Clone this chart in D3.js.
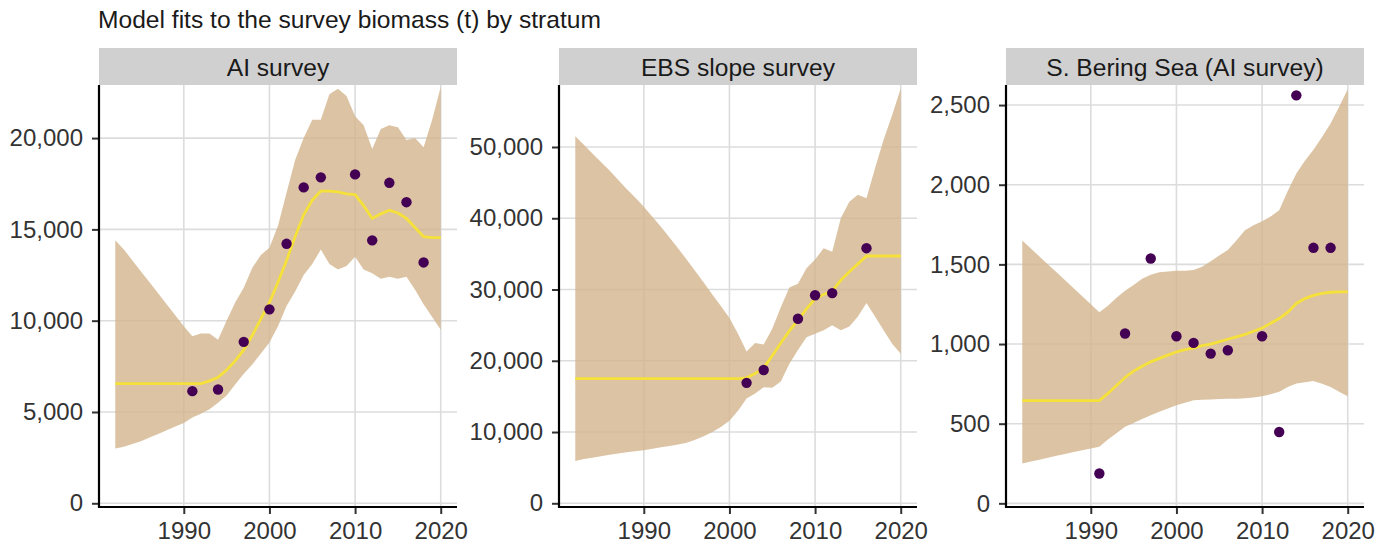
<!DOCTYPE html>
<html><head><meta charset="utf-8">
<script src="https://cdn.jsdelivr.net/npm/d3@7"></script>
<style>body{margin:0;background:#fff;}svg{display:block;font-family:"Liberation Sans",Arial,sans-serif;}</style>
</head><body><svg id="c" width="1381" height="544"></svg>
<script>
const title = "Model fits to the survey biomass (t) by stratum";
const panelNames = ["AI survey", "EBS slope survey", "S. Bering Sea (AI survey)"];
const years = [1982,1983,1984,1985,1986,1987,1988,1989,1990,1991,1992,1993,1994,1995,1996,1997,1998,1999,2000,2001,2002,2003,2004,2005,2006,2007,2008,2009,2010,2011,2012,2013,2014,2015,2016,2017,2018,2019,2020];
const xTicks = [1990, 2000, 2010, 2020];

// AI survey
const aiUpper = [14400,13900,13300,12700,12100,11500,10900,10300,9700,9150, 9300,9300,8950,10000,11000,11800,12900,13600,14000,15200, 17000,18800,20000,21000,21000,22400,22700,22300,21200,20700, 19400,20500,20700,20600,19900,20000,19500,21000,22800];
const aiLower = [3000,3100,3250,3400,3600,3800,4000,4200,4400,4700, 4900,5150,5500,5900,6500,7100,7600,8200,8800,9700, 10800,11600,12500,13100,13900,13100,12800,13000,13500,12800, 12600,12300,12400,12300,12400,11700,10900,10200,9500];
const aiFit = [6550,6550,6550,6550,6550,6550,6550,6550,6550,6550,6550, 6700,6900,7300,7800,8400,9200,10100,11000,12100, 13300,14600,15800,16600,17100,17100,17050,16950,16900,16300, 15600,15850,16050,15900,15600,15100,14600,14550,14550];
const aiObsYears = [1991,1994,1997,2000,2002,2004,2006,2010,2012,2014,2016,2018];
const aiObs = [6140,6230,8840,10620,14210,17300,17850,18010,14400,17550,16490,13190];
const aiTicks = [0,5000,10000,15000,20000];
const aiDomain = [-203, 22907];

// EBS slope survey
const ebsUpper = [51500,50300,49100,47900,46700,45400,44100,42900,41600,40200, 38800,37300,35800,34200,32600,31000,29300,27700,26000,23800, 21300,22500,22300,24500,27500,30300,30800,33000,34200,35800, 35300,40000,42300,43300,42800,47000,51000,54500,58200];
const ebsLower = [5950,6200,6400,6600,6800,7000,7150,7300,7450,7650, 7850,8050,8250,8500,8900,9400,10000,10700,11600,13000, 14700,15400,16300,16200,17100,19600,21500,23300,23800,24300, 25000,24300,24800,26200,28100,26200,24300,22400,21000];
const ebsFit = [17500,17500,17500,17500,17500,17500,17500,17500,17500,17500,17500,17500,17500,17500,17500,17500,17500,17500,17500,17500, 17600,18200,19000,20700,22500,24200,25700,27300,28700,29300, 29800,31300,32500,33600,34700,34700,34700,34700,34700];
const ebsObsYears = [2002,2004,2008,2010,2012,2016];
const ebsObs = [16900,18700,25900,29200,29500,35800];
const ebsTicks = [0,10000,20000,30000,40000,50000];
const ebsDomain = [-520, 58700];

// S. Bering Sea (AI survey)
const sbsUpper = [1650,1600,1550,1500,1450,1400,1350,1300,1250,1200, 1240,1290,1335,1370,1410,1435,1450,1455,1460,1460, 1465,1485,1520,1555,1590,1650,1715,1745,1770,1800, 1840,1960,2070,2150,2220,2300,2385,2490,2600];
const sbsLower = [250,262,274,286,298,310,322,334,344,355, 400,440,480,505,530,553,575,595,615,632, 647,650,652,655,657,657,660,665,672,685, 700,730,752,760,768,750,730,700,672];
const sbsFit = [645,645,645,645,645,645,645,645,645,645, 690,740,790,830,860,888,910,930,950,965, 975,990,1000,1015,1030,1045,1060,1080,1100,1130, 1160,1200,1255,1285,1305,1318,1325,1328,1328];
const sbsObsYears = [1991,1994,1997,2000,2002,2004,2006,2010,2012,2014,2016,2018];
const sbsObs = [187,1066,1537,1049,1007,940,961,1049,448,2561,1604,1604];
const sbsTicks = [0,500,1000,1500,2000,2500];
const sbsDomain = [-23, 2626];

const panels = [
  {name: panelNames[0], upper: aiUpper, lower: aiLower, fit: aiFit, obsYears: aiObsYears, obs: aiObs, ticks: aiTicks, domain: aiDomain},
  {name: panelNames[1], upper: ebsUpper, lower: ebsLower, fit: ebsFit, obsYears: ebsObsYears, obs: ebsObs, ticks: ebsTicks, domain: ebsDomain},
  {name: panelNames[2], upper: sbsUpper, lower: sbsLower, fit: sbsFit, obsYears: sbsObsYears, obs: sbsObs, ticks: sbsTicks, domain: sbsDomain}
];

const svg = d3.select("#c");
const panelLeft = [99, 559, 1006];
const panelW = 358, panelTop = 85, panelBottom = 507, stripTop = 48;
const fmt = d3.format(",");

svg.append("text").attr("x", 98).attr("y", 27.5).attr("font-size", 24.6).attr("fill", "#1a1a1a").text(title);

panels.forEach((p, i) => {
  const x0 = panelLeft[i];
  const g = svg.append("g");
  const x = d3.scaleLinear().domain([1980.1, 2021.9]).range([x0, x0 + panelW]);
  const y = d3.scaleLinear().domain(p.domain).range([panelBottom, panelTop]);

  // strip
  g.append("rect").attr("x", x0).attr("y", stripTop).attr("width", panelW).attr("height", panelTop - stripTop).attr("fill", "#d0d0d0");
  g.append("text").attr("x", x0 + panelW / 2).attr("y", 75.5).attr("text-anchor", "middle")
    .attr("font-size", 24.6).attr("fill", "#1a1a1a").text(p.name);

  // grid
  const grid = g.append("g").attr("stroke", "#dcdcdc").attr("stroke-width", 1.6);
  xTicks.forEach(t => grid.append("line").attr("x1", x(t)).attr("x2", x(t)).attr("y1", panelTop).attr("y2", panelBottom));
  p.ticks.forEach(t => grid.append("line").attr("x1", x0).attr("x2", x0 + panelW).attr("y1", y(t)).attr("y2", y(t)));

  const clipId = "clip" + i;
  svg.append("clipPath").attr("id", clipId).append("rect").attr("x", x0).attr("y", panelTop).attr("width", panelW).attr("height", panelBottom - panelTop);
  const plot = g.append("g").attr("clip-path", `url(#${clipId})`);

  const area = d3.area().x((d, j) => x(years[j])).y0((d, j) => y(p.lower[j])).y1((d, j) => y(p.upper[j]));
  plot.append("path").datum(years).attr("d", area).attr("fill", "#D2B48C").attr("fill-opacity", 0.8);

  const line = d3.line().x((d, j) => x(years[j])).y((d, j) => y(p.fit[j]));
  plot.append("path").datum(years).attr("d", line).attr("fill", "none").attr("stroke", "#F5E13A").attr("stroke-width", 2.8);

  plot.selectAll("circle").data(p.obs).join("circle")
    .attr("cx", (d, j) => x(p.obsYears[j])).attr("cy", d => y(d)).attr("r", 5.2).attr("fill", "#440154");

  // axes
  const yAxis = d3.axisLeft(y).tickValues(p.ticks).tickFormat(fmt).tickSize(7).tickPadding(9);
  const ya = g.append("g").attr("transform", `translate(${x0},0)`).call(yAxis);
  const xAxis = d3.axisBottom(x).tickValues(xTicks).tickFormat(d3.format("d")).tickSize(7).tickPadding(8);
  const xa = g.append("g").attr("transform", `translate(0,${panelBottom})`).call(xAxis);
  [ya, xa].forEach(a => {
    a.select(".domain").remove();
    a.selectAll(".tick line").attr("stroke", "#333").attr("stroke-width", 2);
    a.selectAll(".tick text").attr("font-size", 24).attr("fill", "#333").attr("font-family", "Liberation Sans, Arial, sans-serif");
  });
  g.append("line").attr("x1", x0).attr("x2", x0).attr("y1", panelTop).attr("y2", panelBottom + 1).attr("stroke", "#000").attr("stroke-width", 2.2);
  g.append("line").attr("x1", x0 - 1).attr("x2", x0 + panelW).attr("y1", panelBottom).attr("y2", panelBottom).attr("stroke", "#000").attr("stroke-width", 2.2);
});
</script></body></html>
